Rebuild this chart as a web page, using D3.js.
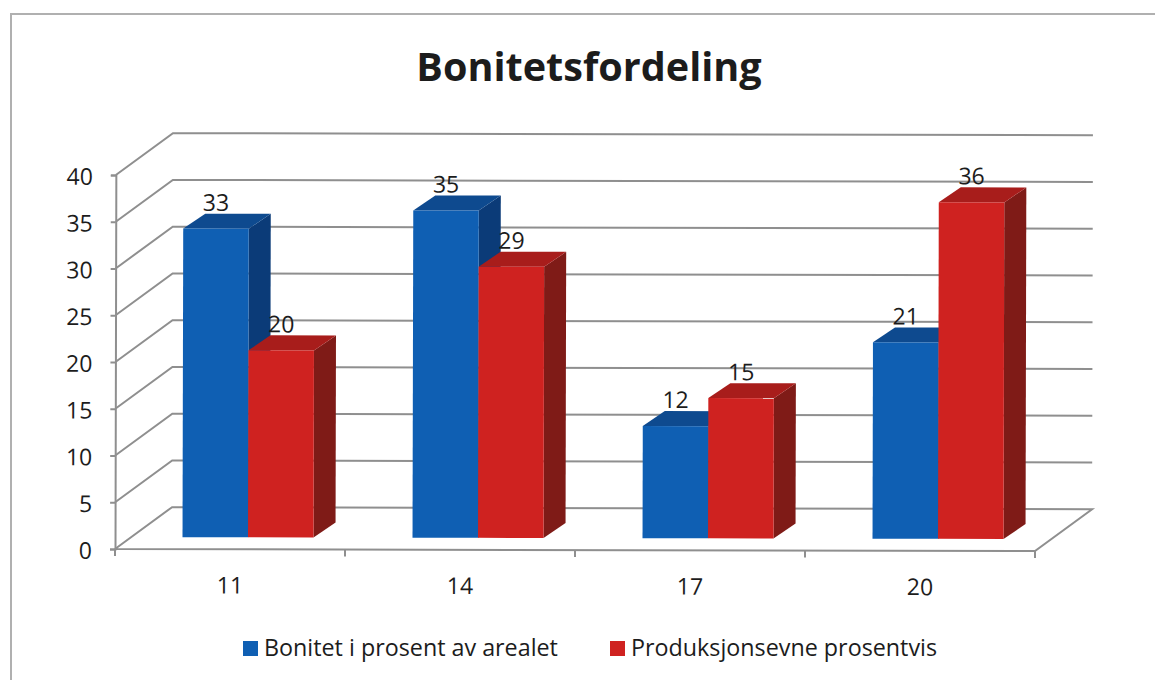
<!DOCTYPE html>
<html>
<head>
<meta charset="utf-8">
<script src="https://cdnjs.cloudflare.com/ajax/libs/d3/7.8.5/d3.min.js"></script>
<style>
  body { margin: 0; background: #fff; }
  text { font-family: "Open Sans", "Noto Sans", sans-serif; fill: #1c1c1c; }
</style>
</head>
<body>
<div id="chart"></div>
<script>
var categories = ["11", "14", "17", "20"];
var seriesNames = ["Bonitet i prosent av arealet", "Produksjonsevne prosentvis"];
var bonitet = [33, 35, 12, 21];
var produksjon = [20, 29, 15, 36];
var yTicks = [0, 5, 10, 15, 20, 25, 30, 35, 40];

var width = 1155;
var height = 680;

var svg = d3.select("#chart").append("svg")
    .attr("width", width)
    .attr("height", height);

// outer frame of the scanned chart
svg.append("path")
    .attr("d", "M11,680V14H1155")
    .attr("fill", "none")
    .attr("stroke", "#b0b0b0")
    .attr("stroke-width", 2);

svg.append("text")
    .attr("x", 589)
    .attr("y", 81)
    .attr("text-anchor", "middle")
    .style("font-size", "39.6px")
    .style("font-weight", 700)
    .text("Bonitetsfordeling");

// the scan is a little bit rotated
var plot = svg.append("g").attr("transform", "rotate(0.13 115 549)");

var x = d3.scaleBand().domain(categories).range([115, 1035]);
var y = d3.scaleLinear().domain([0, 40]).range([549, 175]);

// depth of the 3d box
var depthX = 57;
var depthY = -42;

// grid lines, side wall + back wall
plot.append("g").selectAll("path")
    .data(yTicks)
  .enter().append("path")
    .attr("d", function(d) {
        var line = "M" + x.range()[0] + "," + y(d) + "l" + depthX + "," + depthY + "H" + (x.range()[1] + depthX);
        if (d == 0) {
            line += "L" + x.range()[1] + "," + y(0) + "H" + x.range()[0];
        }
        return line;
    })
    .attr("fill", "none")
    .attr("stroke", "#8f8f8f")
    .attr("stroke-width", 2);

var yAxis = d3.axisLeft(y).tickValues(yTicks).tickSize(5).tickPadding(18);
var xAxis = d3.axisBottom(x).tickSize(0).tickPadding(28);

var gy = plot.append("g")
    .attr("transform", "translate(115,0)")
    .call(yAxis);

var gx = plot.append("g")
    .attr("transform", "translate(0,549)")
    .call(xAxis);

gy.selectAll("path, line").attr("stroke", "#8f8f8f").attr("stroke-width", 2);
gx.selectAll("path").remove();
gy.selectAll("text").style("font-size", "23px").attr("fill", "#1c1c1c").attr("y", 2);
gx.selectAll("text").style("font-size", "23px").attr("fill", "#1c1c1c");

// tick marks between the categories
plot.append("g").selectAll("line")
    .data(d3.range(categories.length + 1))
  .enter().append("line")
    .attr("x1", function(d) { return x.range()[0] + d * x.bandwidth(); })
    .attr("x2", function(d) { return x.range()[0] + d * x.bandwidth(); })
    .attr("y1", 549)
    .attr("y2", 556)
    .attr("stroke", "#8f8f8f")
    .attr("stroke-width", 2);

// bars
var barWidth = 65.5;
var barDepthX = 22;
var barDepthY = -15;
var floorX = 18;
var floorY = -12;

var colors = [
    {front: "#0f5fb3", top: "#0e4a8f", side: "#0b3b78"},
    {front: "#cf2220", top: "#a81d1b", side: "#7f1b17"}
];

function drawBars(values, idx) {
    var bars = plot.append("g").selectAll("g")
        .data(values)
      .enter().append("g");

    function left(d, i) {
        return x(categories[i]) + x.bandwidth() / 2 + floorX + (idx - 1) * barWidth;
    }

    bars.append("path")
        .attr("d", function(d, i) {
            var x0 = left(d, i) + barWidth;
            return "M" + x0 + "," + (y(d) + floorY) +
                "l" + barDepthX + "," + barDepthY +
                "V" + (y(0) + floorY + barDepthY) +
                "l" + (-barDepthX) + "," + (-barDepthY) + "Z";
        })
        .attr("fill", colors[idx].side);

    bars.append("path")
        .attr("d", function(d, i) {
            return "M" + left(d, i) + "," + (y(d) + floorY) +
                "l" + barDepthX + "," + barDepthY +
                "h" + barWidth +
                "l" + (-barDepthX) + "," + (-barDepthY) + "Z";
        })
        .attr("fill", colors[idx].top);

    bars.append("rect")
        .attr("x", left)
        .attr("y", function(d) { return y(d) + floorY; })
        .attr("width", barWidth)
        .attr("height", function(d) { return y(0) - y(d); })
        .attr("fill", colors[idx].front);

    bars.append("text")
        .attr("x", function(d, i) { return left(d, i) + barWidth / 2; })
        .attr("y", function(d) { return y(d) + floorY + barDepthY - 3; })
        .attr("text-anchor", "middle")
        .style("font-size", "23px")
        .text(function(d) { return d; });
}

// the second series overlaps the side of the first one, so blue goes first
drawBars(bonitet, 0);
drawBars(produksjon, 1);

// legend
var legendX = [243, 610];
var legend = svg.append("g").selectAll("g")
    .data(seriesNames)
  .enter().append("g")
    .attr("transform", function(d, i) { return "translate(" + legendX[i] + ",641)"; });

legend.append("rect")
    .attr("width", 15)
    .attr("height", 15)
    .attr("fill", function(d, i) { return colors[i].front; });

legend.append("text")
    .attr("x", 21)
    .attr("y", 15)
    .style("font-size", "23.3px")
    .text(function(d) { return d; });
</script>
</body>
</html>
